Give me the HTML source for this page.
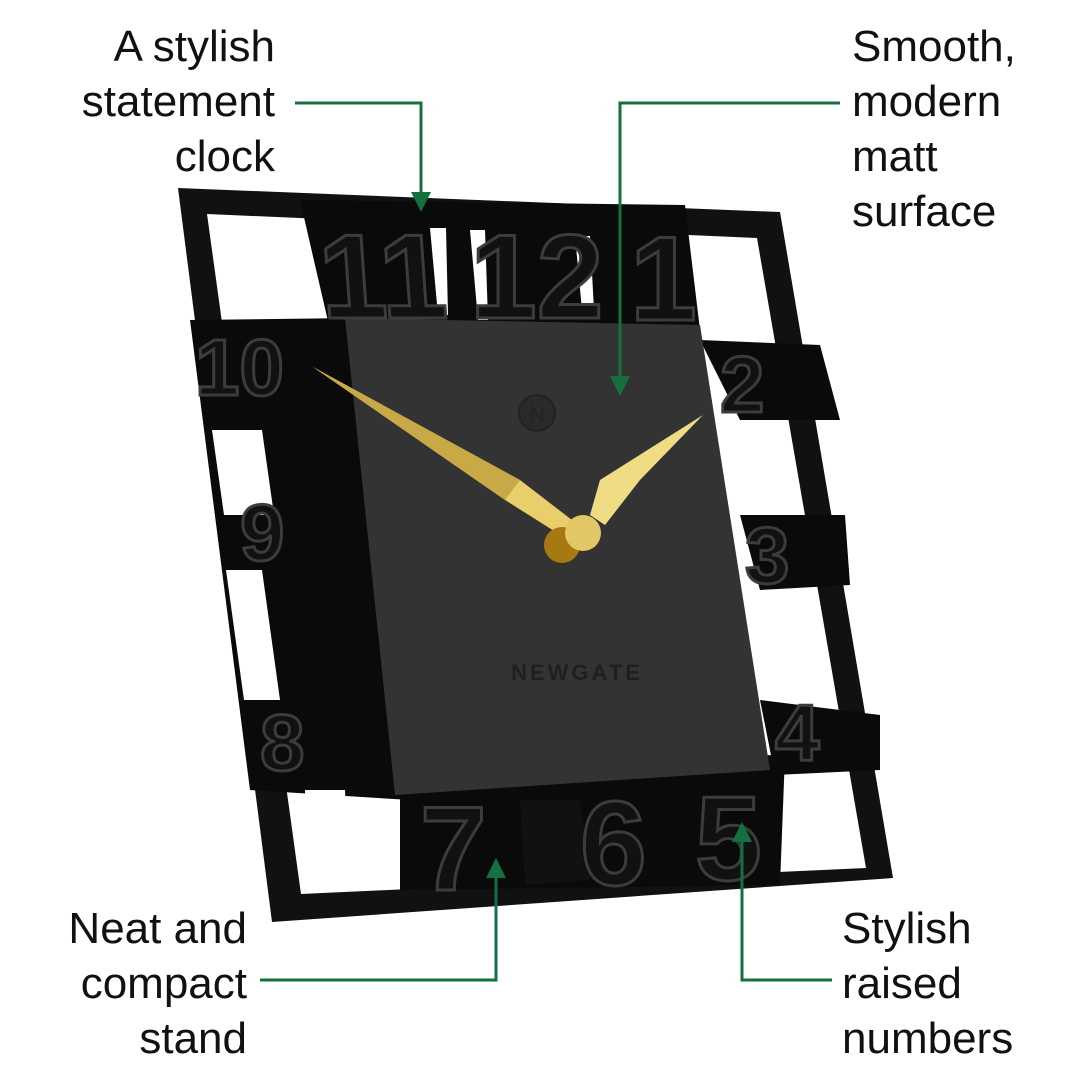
<!DOCTYPE html>
<html><head><meta charset="utf-8"><style>
html,body{margin:0;padding:0;background:#fff}
svg{display:block}
text{font-family:"Liberation Sans",sans-serif}
</style></head><body>
<svg width="1090" height="1090" viewBox="0 0 1090 1090" xmlns="http://www.w3.org/2000/svg">
<rect width="1090" height="1090" fill="#fff"/>
<polygon points="178,188 780,212 893,878 272,922" fill="#111"/>
<polygon points="207,214 757,238 866,868 301,894" fill="#fff"/>
<polygon points="300,200 685,205 700,330 330,330" fill="#0a0a0a"/>
<polygon points="430,228 446,228 448,315 438,315" fill="#fff"/>
<polygon points="470,230 485,230 488,320 478,320" fill="#fff"/>
<polygon points="575,236 590,236 594,310 582,310" fill="#fff"/>
<polygon points="190,320 355,318 410,800 250,790" fill="#0a0a0a"/>
<polygon points="212,430 262,430 274,515 224,515" fill="#fff"/>
<polygon points="226,570 262,570 280,700 244,700" fill="#fff"/>
<polygon points="700,340 820,345 840,420 740,420" fill="#0a0a0a"/>
<polygon points="740,515 845,515 850,585 760,590" fill="#0a0a0a"/>
<polygon points="760,700 880,715 880,770 775,775" fill="#0a0a0a"/>
<polygon points="400,760 785,755 780,885 400,890" fill="#0a0a0a"/>
<polygon points="305,790 345,790 350,890 310,892" fill="#fff"/>
<polygon points="520,800 580,800 590,880 525,885" fill="#111"/>
<polygon points="345,318 700,325 770,770 395,795" fill="#333"/>
<g font-weight="bold" fill="#111" stroke="#3c3c3c" stroke-width="3">
<text x="300" y="318" font-size="120" transform="skewX(4)">11</text>
<text x="470" y="318" font-size="120">12</text>
<text x="630" y="320" font-size="120">1</text>
<text x="720" y="412" font-size="80">2</text>
<text x="745" y="583" font-size="80">3</text>
<text x="775" y="760" font-size="80">4</text>
<text x="695" y="880" font-size="120">5</text>
<text x="580" y="885" font-size="120">6</text>
<text x="420" y="890" font-size="120">7</text>
<text x="260" y="770" font-size="80">8</text>
<text x="240" y="560" font-size="80">9</text>
<text x="195" y="395" font-size="80">10</text>
</g>
<circle cx="537" cy="413" r="18" fill="#2a2a2a" stroke="#222" stroke-width="2"/>
<text x="537" y="422" font-size="22" text-anchor="middle" fill="#222">N</text>
<text x="577" y="680" font-size="22" font-weight="bold" text-anchor="middle" fill="#1f1f1f" letter-spacing="3">NEWGATE</text>
<polygon points="313,367 520,480 572,520 562,536 505,500" fill="#e8cf6a"/>
<polygon points="313,367 505,500 520,480" fill="#c9a846"/>
<polygon points="703,415 640,480 605,525 590,515 600,480" fill="#f0dc85"/>
<circle cx="562" cy="545" r="18" fill="#a67a10"/>
<circle cx="583" cy="533" r="18" fill="#e2c766"/>
<g font-size="44" fill="#111">
<text x="275" y="61" text-anchor="end">A stylish</text>
<text x="275" y="116" text-anchor="end">statement</text>
<text x="275" y="171" text-anchor="end">clock</text>
<text x="852" y="61">Smooth,</text>
<text x="852" y="116">modern</text>
<text x="852" y="171">matt</text>
<text x="852" y="226">surface</text>
<text x="247" y="943" text-anchor="end">Neat and</text>
<text x="247" y="998" text-anchor="end">compact</text>
<text x="247" y="1053" text-anchor="end">stand</text>
<text x="842" y="943">Stylish</text>
<text x="842" y="998">raised</text>
<text x="842" y="1053">numbers</text>
</g>
<g stroke="#14703f" stroke-width="3" fill="none">
<polyline points="295,103 421,103 421,195"/>
<polyline points="840,103 620,103 620,378"/>
<polyline points="260,980 496,980 496,876"/>
<polyline points="832,980 742,980 742,840"/>
</g>
<g fill="#14703f">
<polygon points="411,192 431,192 421,212"/>
<polygon points="610,376 630,376 620,396"/>
<polygon points="486,878 506,878 496,858"/>
<polygon points="732,842 752,842 742,822"/>
</g>
</svg>
</body></html>
